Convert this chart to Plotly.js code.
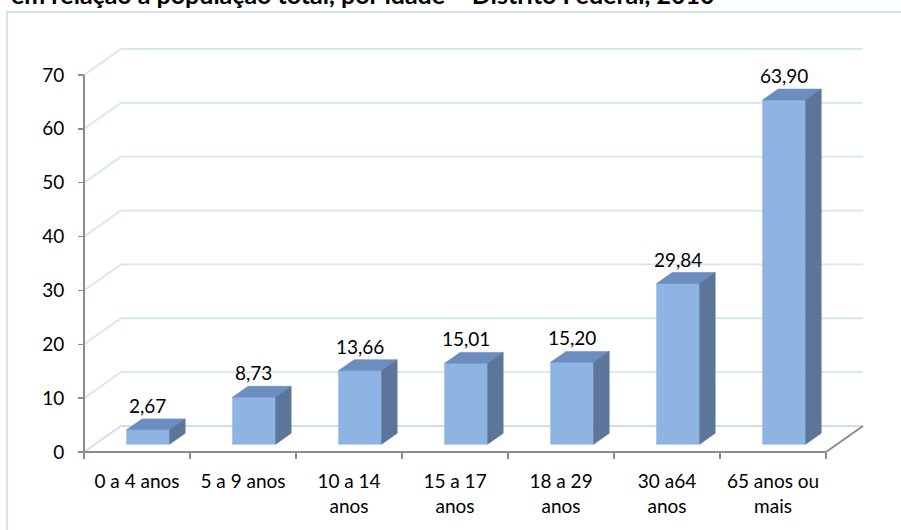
<!DOCTYPE html>
<html>
<head>
<meta charset="utf-8">
<script src="https://cdn.plot.ly/plotly-3.0.1.min.js"></script>
<style>
  html, body { margin: 0; padding: 0; background: #ffffff; }
  #chart { width: 901px; height: 530px; }
</style>
</head>
<body>
<div id="chart"></div>
<script>
// Age groups and share of the total population (%)
const categories = ['0 a 4 anos', '5 a 9 anos', '10 a 14<br>anos', '15 a 17<br>anos',
                    '18 a 29<br>anos', '30 a64<br>anos', '65 anos ou<br>mais'];
const values = [2.67, 8.73, 13.66, 15.01, 15.20, 29.84, 63.90];
const yTicks = [0, 10, 20, 30, 40, 50, 60, 70];
const yMax = 70;
const chartTitle = 'em relação à população total, por idade – Distrito Federal, 2010';

// Oblique projection of the depth axis (in data units)
const DX = 0.349, DY = 4.83;      // full depth of the back wall
const F0 = 0.30, F1 = 0.72;       // front and back depth of each bar
const HALF = 0.203;               // half width of a bar front face
const n = categories.length;
const xLo = -0.5, xHi = n - 0.5;

const fmt = v => v.toFixed(2).replace('.', ',');
const FONT = 'Lato, sans-serif';

// Bar faces as filled polygons (null separates bars)
const frontFace = {x: [], y: []}, topFace = {x: [], y: []}, sideFace = {x: [], y: []};
values.forEach((v, i) => {
  const x0 = i + F0 * DX - HALF, x1 = i + F0 * DX + HALF;
  const yb = F0 * DY, yt = v + F0 * DY;
  const ddx = (F1 - F0) * DX, ddy = (F1 - F0) * DY;
  frontFace.x.push(x0, x1, x1, x0, x0, null);
  frontFace.y.push(yb, yb, yt, yt, yb, null);
  topFace.x.push(x0, x1, x1 + ddx, x0 + ddx, x0, null);
  topFace.y.push(yt, yt, yt + ddy, yt + ddy, yt, null);
  sideFace.x.push(x1, x1 + ddx, x1 + ddx, x1, x1, null);
  sideFace.y.push(yb, yb + ddy, yt + ddy, yt, yb, null);
});

const face = (pts, color) => ({
  type: 'scatter', mode: 'lines', x: pts.x, y: pts.y,
  fill: 'toself', fillcolor: color, line: {width: 0.6, color: color},
  hoverinfo: 'skip', showlegend: false, xaxis: 'x', yaxis: 'y'
});

const traces = [
  face(frontFace, '#8db4e2'),
  face(topFace, '#6b8dbf'),
  face(sideFace, '#5b7698'),
  // category axis carrier
  {type: 'scatter', mode: 'markers', x: categories, y: categories.map(() => 0),
   marker: {opacity: 0}, hoverinfo: 'skip', showlegend: false, xaxis: 'x2', yaxis: 'y'}
];

// Back wall grid lines with their oblique left ends
const shapes = yTicks.map(v => ({
  type: 'path', xref: 'x', yref: 'y', layer: 'below',
  path: `M ${xLo},${v} L ${xLo + DX},${v + DY} L ${xHi + DX},${v + DY}`,
  line: {color: v === 0 ? '#d0dfe8' : '#d3e7f0', width: 1.8}
}));
// Floor front edge, floor right edge and value axis line
shapes.push(
  {type: 'line', xref: 'x', yref: 'y', x0: xLo, y0: 0, x1: xHi, y1: 0,
   line: {color: '#8c8c8c', width: 2}},
  {type: 'line', xref: 'x', yref: 'y', x0: xHi, y0: 0, x1: xHi + DX, y1: DY,
   line: {color: '#8c8c8c', width: 2}},
  {type: 'line', xref: 'x', yref: 'y', x0: xLo, y0: 0, x1: xLo, y1: yMax,
   line: {color: '#8c8c8c', width: 2}},
  // chart area border
  {type: 'rect', xref: 'paper', yref: 'paper', x0: -0.0901, x1: 1.2, y0: -0.3, y1: 1.0721,
   line: {color: '#c6d9ee', width: 1.5}, fillcolor: 'rgba(0,0,0,0)'}
);

// Value labels above each bar
const annotations = values.map((v, i) => ({
  xref: 'x', yref: 'y', x: i + 0.1, y: v + F1 * DY,
  text: fmt(v), showarrow: false, yanchor: 'bottom', yshift: 0,
  font: {family: FONT, size: 19, color: '#000000'}
}));
annotations.push({
  xref: 'paper', yref: 'paper', x: -0.0876, y: 1.0745,
  xanchor: 'left', yanchor: 'bottom', showarrow: false,
  text: '<b>' + chartTitle + '</b>',
  font: {family: FONT, size: 25, color: '#000000'}
});

const xRange = [-0.5566, 6.877];
const layout = {
  width: 901, height: 530,
  margin: {l: 78, r: 35, t: 42, b: 72},
  paper_bgcolor: '#ffffff', plot_bgcolor: '#ffffff',
  showlegend: false,
  font: {family: FONT, size: 19, color: '#000000'},
  xaxis: {range: xRange, visible: false, fixedrange: true},
  xaxis2: {
    type: 'category', overlaying: 'x', anchor: 'free', position: 0.01442, side: 'bottom',
    range: xRange, tickson: 'boundaries', ticks: 'outside', ticklen: 6, tickwidth: 1.5,
    tickcolor: '#8c8c8c', showgrid: false, showline: false, zeroline: false,
    ticklabelstandoff: 16, tickfont: {family: FONT, size: 19, color: '#000000'},
    fixedrange: true
  },
  yaxis: {
    range: [-1.114, 76.12], anchor: 'free', position: 0.00761,
    tickvals: yTicks, ticktext: yTicks.map(String), ticks: 'outside', ticklen: 6, tickwidth: 1.5,
    tickcolor: '#8c8c8c', showgrid: false, showline: false, zeroline: false,
    ticklabelstandoff: 10, tickfont: {family: FONT, size: 19, color: '#000000'},
    fixedrange: true
  },
  shapes: shapes,
  annotations: annotations
};

Plotly.newPlot('chart', traces, layout, {displayModeBar: false, staticPlot: true});
</script>
</body>
</html>
